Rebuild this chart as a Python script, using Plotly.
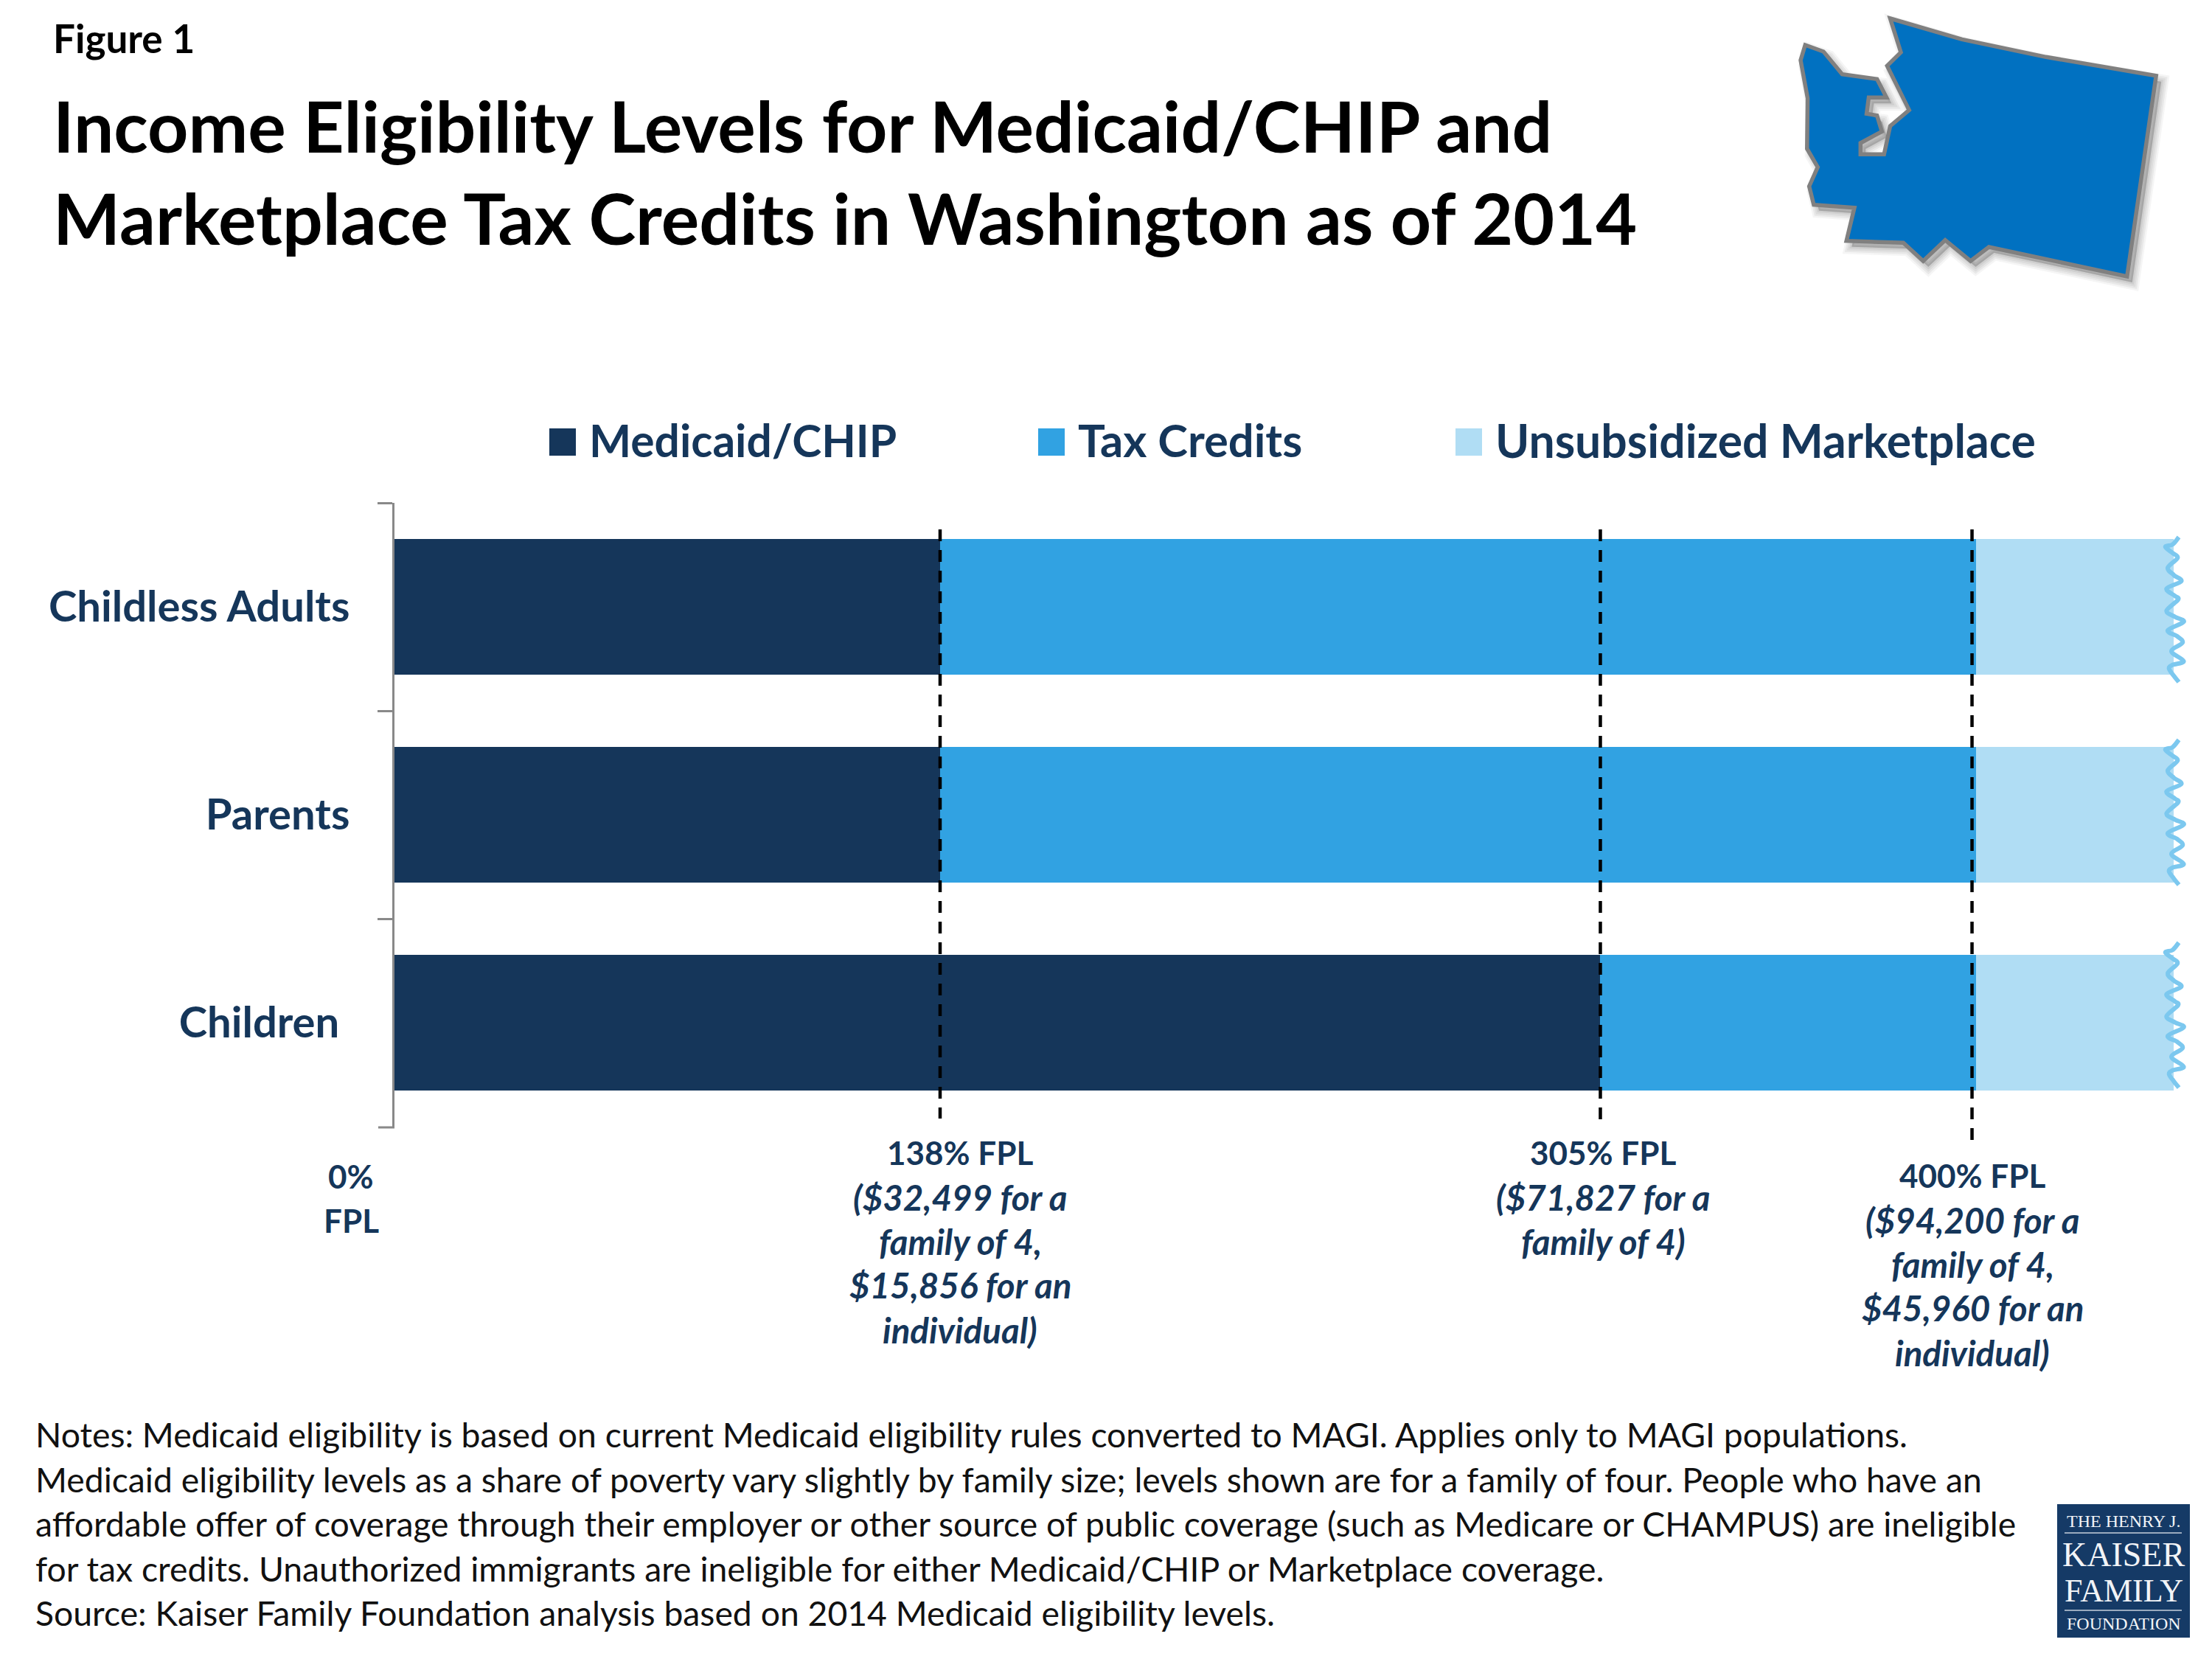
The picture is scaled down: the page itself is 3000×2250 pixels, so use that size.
import plotly.graph_objects as go

# ---------- data ----------
categories = ["Childless Adults", "Parents", "Children\u00a0"]
medicaid_chip = [138, 138, 305]
tax_credits = [262, 262, 95]
unsubsidized = [50, 50, 50]
series_names = ["Medicaid/CHIP", "Tax Credits", "Unsubsidized Marketplace"]
fpl_lines = [138, 305, 399]

title_lines = ["Income Eligibility Levels for Medicaid/CHIP and",
               "Marketplace Tax Credits in Washington as of 2014"]
label_0 = ["0%", "FPL"]
label_138 = ["138% FPL", "($32,499 for a", "family of 4,", "$15,856 for an", "individual)"]
label_305 = ["305% FPL", "($71,827 for a", "family of 4)"]
label_400 = ["400% FPL", "($94,200 for a", "family of 4,", "$45,960 for an", "individual)"]
notes = [
    "Notes: Medicaid eligibility is based on current Medicaid eligibility rules converted to MAGI. Applies only to MAGI populations.",
    "Medicaid eligibility levels as a share of poverty vary slightly by family size; levels shown are for a family of four. People who have an",
    "affordable offer of coverage through their employer or other source of public coverage (such as Medicare or CHAMPUS) are ineligible",
    "for tax credits. Unauthorized immigrants are ineligible for either Medicaid/CHIP or Marketplace coverage.",
    "Source: Kaiser Family Foundation analysis based on 2014 Medicaid eligibility levels.",
]

# ---------- styles ----------
W, H = 3000, 2250
NAVY = "#15365A"
BLUE = "#31A2E2"
LIGHT = "#B0DDF4"
WAVE = "#7CC8EF"
FONT = "Lato, Carlito, Calibri, sans-serif"
SERIF = "Liberation Serif, serif"
colors = [NAVY, BLUE, LIGHT]

PX0, PX1, PY0, PY1 = 535, 2948, 682, 1528


def fx(px):
    return px / W


def fy(py):
    return 1 - py / H


def pth(points):
    return "M" + "L".join(f"{fx(x):.5f},{fy(y):.5f}" for x, y in points) + "Z"


def smooth(points):
    """Catmull-Rom path through outline points, in paper coordinates."""
    p = [(fx(x), fy(y)) for x, y in points]
    d = f"M{p[0][0]:.5f},{p[0][1]:.5f}"
    for i in range(len(p) - 1):
        a = p[max(i - 1, 0)]
        b = p[i]
        c = p[i + 1]
        e = p[min(i + 2, len(p) - 1)]
        c1 = (b[0] + (c[0] - a[0]) / 6, b[1] + (c[1] - a[1]) / 6)
        c2 = (c[0] - (e[0] - b[0]) / 6, c[1] - (e[1] - b[1]) / 6)
        d += f"C{c1[0]:.5f},{c1[1]:.5f} {c2[0]:.5f},{c2[1]:.5f} {c[0]:.5f},{c[1]:.5f}"
    return d


fig = go.Figure()
for name, vals, col in zip(series_names, [medicaid_chip, tax_credits, unsubsidized], colors):
    fig.add_trace(go.Bar(name=name, y=categories, x=vals, orientation="h",
                         marker=dict(color=col, line=dict(width=0)), showlegend=False))

annotations = []


def text(px, py, s, size, color=NAVY, anchor="left", bold=True, italic=False, family=FONT):
    annotations.append(dict(
        x=fx(px), y=fy(py), xref="paper", yref="paper", text=s, showarrow=False,
        xanchor=anchor, yanchor="middle", align=anchor,
        font=dict(family=family, size=size, color=color,
                  weight="bold" if bold else "normal",
                  style="italic" if italic else "normal"),
    ))


# headings
text(70, 52, "Figure 1", 53, "#000000")
text(70, 170, title_lines[0], 96.5, "#000000")
text(70, 295, title_lines[1], 96.5, "#000000")

# manual legend
legend_sq = [745, 1408, 1974]
legend_tx = [797, 1460, 2026]
legend_sz = [60.5, 61.5, 62.5]
shapes = []
for sx, tx, name, col, sz in zip(legend_sq, legend_tx, series_names, colors, legend_sz):
    shapes.append(dict(type="rect", xref="paper", yref="paper", x0=fx(sx), x1=fx(sx + 36),
                       y0=fy(581), y1=fy(618), fillcolor=col, line=dict(width=0)))
    text(tx, 596, name, sz, NAVY)

# FPL dashed guides
for v, bottom in zip(fpl_lines, [1517, 1524, 1546]):
    shapes.append(dict(type="line", xref="x", yref="paper", x0=v, x1=v, y0=fy(718), y1=fy(bottom),
                       line=dict(color="#000000", width=4.5, dash="16px,12px"), layer="above"))

# closing tick at the bottom of the category axis
shapes.append(dict(type="line", xref="paper", yref="paper", x0=fx(513), x1=fx(535),
                   y0=fy(PY1 + 1), y1=fy(PY1 + 1), line=dict(color="#898989", width=3)))

# FPL labels
PITCH = 60
for cx, top, lines in [(476, 1595, label_0), (1302, 1563, label_138),
                       (2174, 1563, label_305), (2675, 1594, label_400)]:
    for i, s in enumerate(lines):
        italic = lines is not label_0 and i > 0
        text(cx, top + i * PITCH, s, 47.5 if italic else 44, NAVY, "center", True, italic)

# notes
for py, s in zip([1945, 2006, 2066, 2127, 2187], notes):
    text(46, py, s, 46.3, "#111111", bold=False)

# wavy torn right edge of each bar
wave_pts = [(1065, 85), (1040, 115), (1010, 125), (1040, 150), (1060, 170), (1020, 210), (1045, 240),
            (1075, 265), (1015, 295), (1050, 325), (1062, 340), (1015, 385), (1050, 410), (1085, 430),
            (1020, 465), (1060, 490), (1080, 515), (1035, 550), (1085, 590), (1040, 605), (1025, 620),
            (1045, 650), (1065, 675)]
for k in range(3):
    pts = [(2600 + x / 3, 700 + y / 3 + 275 * k) for x, y in wave_pts]
    shapes.append(dict(type="path", xref="paper", yref="paper", path=smooth(pts),
                       line=dict(color=WAVE, width=6), layer="above"))

# Washington state outline
wa_outline = [(515, 75), (750, 160), (1025, 232), (1385, 308), (1290, 1125), (838, 1005), (778, 1062),
              (695, 977), (623, 1062), (558, 988), (372, 980), (398, 845), (265, 833), (250, 758),
              (278, 680), (243, 605), (245, 400), (222, 245), (237, 183), (297, 210), (358, 302),
              (472, 322), (503, 397), (445, 397), (438, 463), (472, 470), (488, 535), (418, 582),
              (418, 628), (495, 628), (515, 513), (577, 448), (505, 268), (550, 213)]
wa = [(2350 + x / 2.412, y / 3) for x, y in wa_outline]
for w, a in [(20, 0.04), (15, 0.05), (10, 0.05), (5, 0.06)]:
    shadow = [(x + 7, y + 8) for x, y in wa]
    shapes.append(dict(type="path", xref="paper", yref="paper", path=pth(shadow),
                       fillcolor=f"rgba(0,0,0,{a})", line=dict(color=f"rgba(0,0,0,{a})", width=w),
                       layer="below"))
shapes.append(dict(type="path", xref="paper", yref="paper", path=pth(wa),
                   fillcolor="#0171C1", line=dict(color="#808080", width=5.5), layer="above"))

# foundation logo
shapes.append(dict(type="rect", xref="paper", yref="paper", x0=fx(2790), x1=fx(2970),
                   y0=fy(2040), y1=fy(2221), fillcolor="#153A66", line=dict(width=0), layer="above"))
for py in (2079, 2184):
    shapes.append(dict(type="line", xref="paper", yref="paper", x0=fx(2800), x1=fx(2959),
                       y0=fy(py), y1=fy(py), line=dict(color="#C7D0DC", width=1.5), layer="above"))
for py, s, size in [(2063, "THE HENRY J.", 24), (2108, "KAISER", 46), (2157, "FAMILY", 44),
                    (2202, "FOUNDATION", 24)]:
    text(2880, py, s, size, "#F2F4F7", "center", False, False, SERIF)

fig.update_layout(
    width=W, height=H, margin=dict(l=0, r=0, t=0, b=0), autosize=False,
    paper_bgcolor="#FFFFFF", plot_bgcolor="#FFFFFF",
    barmode="stack", bargap=0.348, showlegend=False,
    xaxis=dict(domain=[fx(PX0), fx(PX1)], range=[0, 450], visible=False, fixedrange=True),
    yaxis=dict(domain=[fy(PY1), fy(PY0)], autorange="reversed", type="category", tickson="boundaries",
               ticks="outside", ticklen=20, tickwidth=3, tickcolor="#898989", showline=True,
               linecolor="#898989", linewidth=3, showgrid=False, zeroline=False,
               ticklabelstandoff=46,
               tickfont=dict(family=FONT, size=58, color=NAVY, weight="bold")),
    shapes=shapes, annotations=annotations,
)

fig.write_html("out.html", config={"displayModeBar": False},
               post_script="document.body.style.margin='0';")
